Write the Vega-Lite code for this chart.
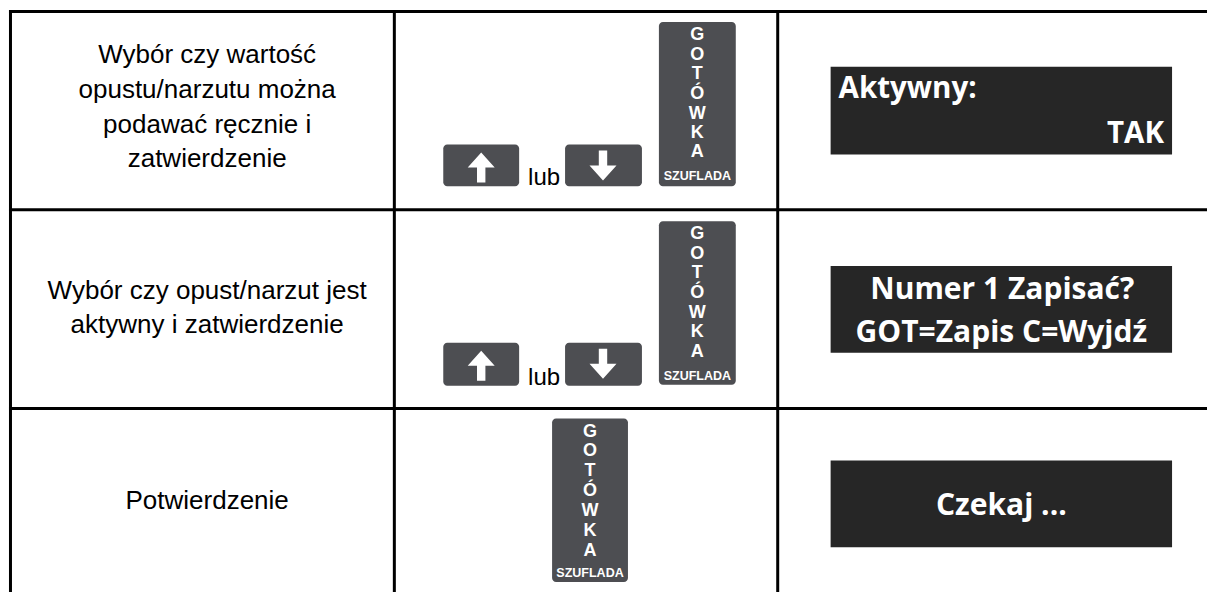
{
  "$schema": "https://vega.github.io/schema/vega-lite/v6.json",
  "width": 1209,
  "height": 594,
  "autosize": {"type": "fit", "contains": "padding"},
  "padding": 0,
  "background": "white",
  "config": {"view": {"stroke": null}, "axis": {"disable": true}},
  "datasets": {
    "grid": [
      {"x": 9, "x2": 1209, "y": 11.5, "y2": 11.5},
      {"x": 9, "x2": 1209, "y": 210.5, "y2": 210.5},
      {"x": 9, "x2": 1209, "y": 410, "y2": 410},
      {"x": 10.5, "x2": 10.5, "y": 10, "y2": 594},
      {"x": 395, "x2": 395, "y": 10, "y2": 594},
      {"x": 779, "x2": 779, "y": 10, "y2": 594}
    ],
    "screens": [
      {"x": 832, "x2": 1174, "y": 67, "y2": 155},
      {"x": 832, "x2": 1174, "y": 267, "y2": 354},
      {"x": 832, "x2": 1174, "y": 462, "y2": 549}
    ],
    "keys": [
      {"x": 660, "x2": 737, "y": 22, "y2": 187},
      {"x": 444, "x2": 520, "y": 145, "y2": 187},
      {"x": 566, "x2": 643, "y": 145, "y2": 187},
      {"x": 660, "x2": 737, "y": 222, "y2": 386},
      {"x": 444, "x2": 520, "y": 344, "y2": 387},
      {"x": 566, "x2": 643, "y": 344, "y2": 387},
      {"x": 553, "x2": 629, "y": 420, "y2": 584}
    ],
    "up": [
      {"x": 482, "y": 168},
      {"x": 482, "y": 367}
    ],
    "down": [
      {"x": 604, "y": 166},
      {"x": 604, "y": 365}
    ],
    "letters": [
      {"t": "G", "x": 698.5, "y": 40},
      {"t": "O", "x": 698.5, "y": 60},
      {"t": "T", "x": 698.5, "y": 79},
      {"t": "Ó", "x": 698.5, "y": 99},
      {"t": "W", "x": 698.5, "y": 119},
      {"t": "K", "x": 698.5, "y": 138},
      {"t": "A", "x": 698.5, "y": 158},
      {"t": "G", "x": 698.5, "y": 240},
      {"t": "O", "x": 698.5, "y": 260},
      {"t": "T", "x": 698.5, "y": 279},
      {"t": "Ó", "x": 698.5, "y": 299},
      {"t": "W", "x": 698.5, "y": 319},
      {"t": "K", "x": 698.5, "y": 338},
      {"t": "A", "x": 698.5, "y": 358},
      {"t": "G", "x": 591, "y": 438},
      {"t": "O", "x": 591, "y": 458},
      {"t": "T", "x": 591, "y": 478},
      {"t": "Ó", "x": 591, "y": 498},
      {"t": "W", "x": 591, "y": 518},
      {"t": "K", "x": 591, "y": 538},
      {"t": "A", "x": 591, "y": 558}
    ],
    "drawer": [
      {"t": "SZUFLADA", "x": 698.5, "y": 181},
      {"t": "SZUFLADA", "x": 698.5, "y": 381},
      {"t": "SZUFLADA", "x": 591, "y": 579}
    ],
    "lub": [
      {"t": "lub", "x": 545, "y": 186},
      {"t": "lub", "x": 545, "y": 386}
    ],
    "left": [
      {"t": "Wybór czy wartość", "x": 207.5, "y": 63},
      {"t": "opustu/narzutu można", "x": 207.5, "y": 98},
      {"t": "podawać ręcznie i", "x": 207.5, "y": 133},
      {"t": "zatwierdzenie", "x": 207.5, "y": 168},
      {"t": "Wybór czy opust/narzut jest", "x": 207.5, "y": 300},
      {"t": "aktywny i zatwierdzenie", "x": 207.5, "y": 334},
      {"t": "Potwierdzenie", "x": 207.5, "y": 511}
    ],
    "scrLeft": [
      {"t": "Aktywny:", "x": 840, "y": 98}
    ],
    "scrRight": [
      {"t": "TAK", "x": 1166, "y": 143}
    ],
    "scrCenter": [
      {"t": "Numer 1 Zapisać?", "x": 1004, "y": 300},
      {"t": "GOT=Zapis C=Wyjdź", "x": 1003, "y": 343},
      {"t": "Czekaj ...", "x": 1003, "y": 517}
    ]
  },
  "encoding": {
    "x": {"field": "x", "type": "quantitative", "scale": {"domain": [0, 1209], "nice": false, "zero": false}},
    "y": {"field": "y", "type": "quantitative", "scale": {"domain": [0, 594], "reverse": true, "nice": false, "zero": false}}
  },
  "layer": [
    {
      "data": {"name": "screens"},
      "mark": {"type": "rect", "color": "#262626"},
      "encoding": {"x2": {"field": "x2"}, "y2": {"field": "y2"}}
    },
    {
      "data": {"name": "keys"},
      "mark": {"type": "rect", "color": "#4d4e52", "cornerRadius": 4},
      "encoding": {"x2": {"field": "x2"}, "y2": {"field": "y2"}}
    },
    {
      "data": {"name": "grid"},
      "mark": {"type": "rule", "color": "black", "strokeWidth": 3},
      "encoding": {"x2": {"field": "x2"}, "y2": {"field": "y2"}}
    },
    {
      "data": {"name": "up"},
      "mark": {"type": "point", "shape": "M0,-1L0.9,0L0.28,0L0.28,1L-0.28,1L-0.28,0L-0.9,0Z", "filled": true, "color": "white", "opacity": 1, "size": 900, "strokeWidth": 0}
    },
    {
      "data": {"name": "down"},
      "mark": {"type": "point", "shape": "M0,1L0.9,0L0.28,0L0.28,-1L-0.28,-1L-0.28,0L-0.9,0Z", "filled": true, "color": "white", "opacity": 1, "size": 900, "strokeWidth": 0}
    },
    {
      "data": {"name": "letters"},
      "mark": {"type": "text", "font": "Liberation Sans", "fontWeight": "bold", "fontSize": 18, "color": "white", "align": "center", "baseline": "alphabetic"},
      "encoding": {"text": {"field": "t", "type": "nominal"}}
    },
    {
      "data": {"name": "drawer"},
      "mark": {"type": "text", "font": "Liberation Sans", "fontWeight": "bold", "fontSize": 12.5, "color": "white", "align": "center", "baseline": "alphabetic"},
      "encoding": {"text": {"field": "t", "type": "nominal"}}
    },
    {
      "data": {"name": "lub"},
      "mark": {"type": "text", "font": "Liberation Sans", "fontSize": 24, "color": "black", "align": "center", "baseline": "alphabetic"},
      "encoding": {"text": {"field": "t", "type": "nominal"}}
    },
    {
      "data": {"name": "left"},
      "mark": {"type": "text", "font": "Liberation Sans", "fontSize": 26, "color": "black", "align": "center", "baseline": "alphabetic"},
      "encoding": {"text": {"field": "t", "type": "nominal"}}
    },
    {
      "data": {"name": "scrLeft"},
      "mark": {"type": "text", "font": "Open Sans", "fontWeight": "bold", "fontSize": 29.5, "color": "white", "align": "left", "baseline": "alphabetic"},
      "encoding": {"text": {"field": "t", "type": "nominal"}}
    },
    {
      "data": {"name": "scrRight"},
      "mark": {"type": "text", "font": "Open Sans", "fontWeight": "bold", "fontSize": 29.5, "color": "white", "align": "right", "baseline": "alphabetic"},
      "encoding": {"text": {"field": "t", "type": "nominal"}}
    },
    {
      "data": {"name": "scrCenter"},
      "mark": {"type": "text", "font": "Open Sans", "fontWeight": "bold", "fontSize": 30, "color": "white", "align": "center", "baseline": "alphabetic"},
      "encoding": {"text": {"field": "t", "type": "nominal"}}
    }
  ]
}
